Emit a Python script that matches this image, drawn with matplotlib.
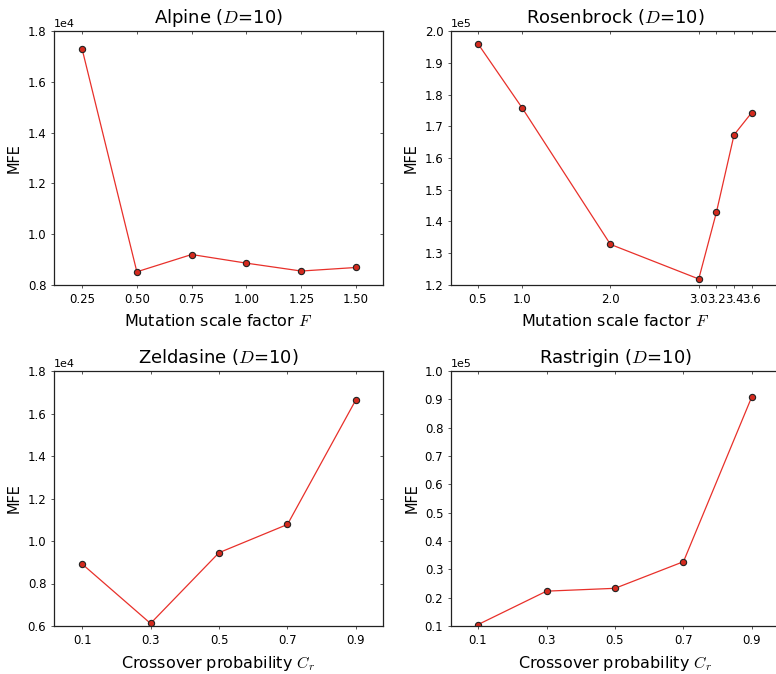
import numpy as np
import matplotlib
matplotlib.use("Agg")
import matplotlib.pyplot as plt

plt.rcParams["mathtext.fontset"] = "cm"
plt.rcParams["font.family"] = "DejaVu Sans"

# data
alp_x = [0.25, 0.50, 0.75, 1.00, 1.25, 1.50]
alp_y = [1.73e4, 0.852e4, 0.92e4, 0.886e4, 0.855e4, 0.869e4]

ros_x = [0.5, 1.0, 2.0, 3.0, 3.2, 3.4, 3.6]
ros_y = [1.96e5, 1.758e5, 1.328e5, 1.219e5, 1.429e5, 1.673e5, 1.743e5]

zel_x = [0.1, 0.3, 0.5, 0.7, 0.9]
zel_y = [0.892e4, 0.612e4, 0.945e4, 1.078e4, 1.665e4]

ras_x = [0.1, 0.3, 0.5, 0.7, 0.9]
ras_y = [0.105e5, 0.223e5, 0.233e5, 0.327e5, 0.91e5]

W, H = 776, 674
fig = plt.figure(figsize=(W / 100, H / 100), dpi=100)

def add_ax(l, t, r, b):
    return fig.add_axes([l / W, 1 - b / H, (r - l) / W, (b - t) / H])

panels = [
    (add_ax(54, 31, 383, 285), alp_x, alp_y, "Alpine ($D$=10)", "Mutation scale factor $F$",
     (0.122, 1.623), (0.8e4, 1.8e4), np.arange(0.8e4, 1.81e4, 0.2e4), "%.2f"),
    (add_ax(451, 31, 780, 285), ros_x, ros_y, "Rosenbrock ($D$=10)", "Mutation scale factor $F$",
     (0.195, 3.92), (1.2e5, 2.0e5), np.arange(1.2e5, 2.01e5, 0.1e5), "%.1f"),
    (add_ax(54, 371, 383, 626), zel_x, zel_y, "Zeldasine ($D$=10)", "Crossover probability $C_r$",
     (0.018, 0.979), (0.6e4, 1.8e4), np.arange(0.6e4, 1.81e4, 0.2e4), "%.1f"),
    (add_ax(451, 371, 780, 626), ras_x, ras_y, "Rastrigin ($D$=10)", "Crossover probability $C_r$",
     (0.021, 0.982), (0.1e5, 1.0e5), np.arange(0.1e5, 1.01e5, 0.1e5), "%.1f"),
]

for ax, x, y, title, xlabel, xl, yl, yt, fmt in panels:
    ax.plot(x, y, "-", color="#e8302a", lw=0.9, marker="o", ms=4.5,
            mfc="#d42a1e", mec="#222222", mew=0.8)
    ax.set_xlim(*xl)
    ax.set_ylim(*yl)
    ax.set_xticks(x)
    ax.set_xticklabels([fmt % v for v in x])
    ax.set_yticks(yt)
    ax.ticklabel_format(axis="y", style="sci", scilimits=(0, 0))
    ax.yaxis.get_offset_text().set_fontsize(8)
    ax.tick_params(labelsize=8.5, length=2.5, width=0.7, color="#555555", pad=3)
    ax.tick_params(axis="both", direction="out", bottom=True, left=True)
    ax.tick_params(axis="x", which="major", top=True)
    ax.tick_params(axis="y", which="major", right=True)
    # top/right ticks point inward, bottom/left outward
    for t in ax.xaxis.get_major_ticks():
        t.tick2line.set_marker(matplotlib.lines.TICKDOWN)
    for t in ax.yaxis.get_major_ticks():
        t.tick2line.set_marker(matplotlib.lines.TICKLEFT)
    ax.set_title(title, fontsize=13, pad=6)
    ax.set_xlabel(xlabel, fontsize=11.5, labelpad=5)
    ax.set_ylabel("MFE", fontsize=10.5)
    for s in ax.spines.values():
        s.set_linewidth(0.9)
        s.set_color("#222222")

fig.savefig("out.png", dpi=100)
